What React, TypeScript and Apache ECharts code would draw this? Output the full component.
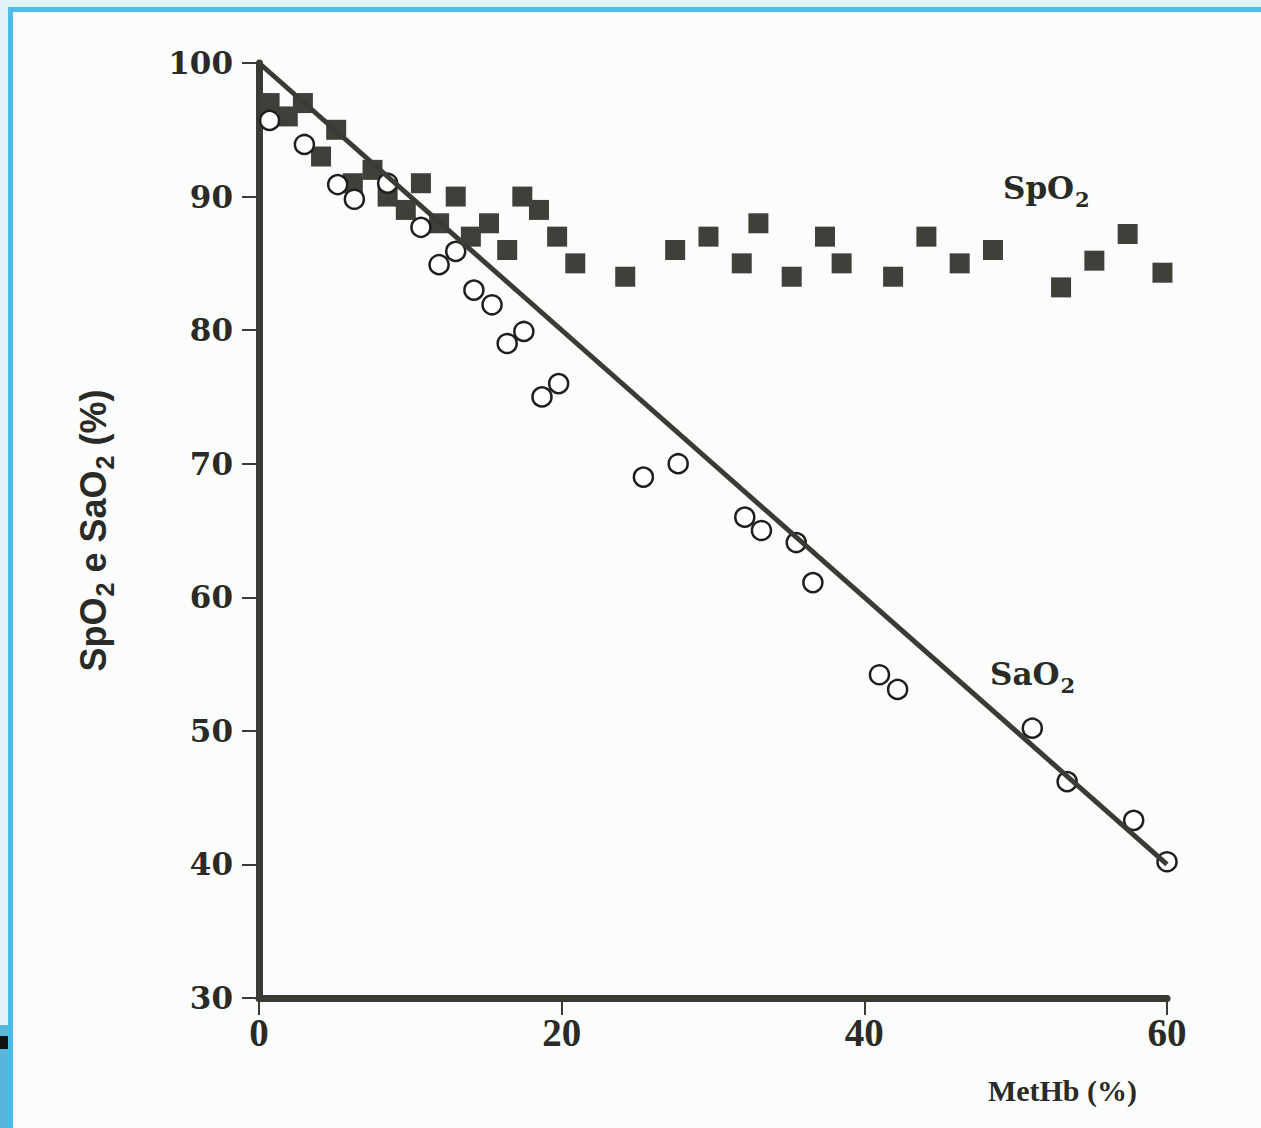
import React, { useEffect, useRef } from "react";
import * as echarts from "echarts";

// MetHb (%) vs SpO2 (filled squares)
const spo2X = [0.7, 1.9, 2.9, 5.1, 4.1, 7.5, 6.2, 10.7, 8.5, 13.0, 9.7, 17.4, 18.5, 11.9, 15.2, 14.0, 19.7, 16.4, 20.9, 24.2, 27.5, 29.7, 31.9, 33.0, 35.2, 37.4, 38.5, 41.9, 44.1, 46.3, 48.5, 53.0, 55.2, 57.4, 59.7];
const spo2Y = [97, 96, 97, 95, 93, 92, 91, 91, 90, 90, 89, 90, 89, 88, 88, 87, 87, 86, 85, 84, 86, 87, 85, 88, 84, 87, 85, 84, 87, 85, 86, 83.2, 85.2, 87.2, 84.3];

// MetHb (%) vs SaO2 (open circles)
const sao2X = [0.7, 3.0, 5.2, 6.3, 8.5, 10.7, 13.0, 11.9, 14.2, 15.4, 17.5, 16.4, 18.7, 19.8, 25.4, 27.7, 32.1, 33.2, 35.5, 36.6, 41.0, 42.2, 51.1, 53.4, 57.8, 60.0];
const sao2Y = [95.7, 93.9, 90.9, 89.8, 91, 87.7, 85.9, 84.9, 83, 81.9, 79.9, 79, 75, 76, 69, 70, 66, 65, 64.1, 61.1, 54.2, 53.1, 50.2, 46.2, 43.3, 40.2];

// Reference line SaO2 = 100 - MetHb
const lineX = [0, 60];
const lineY = [100, 40];

const xTicks = { min: 0, max: 60, interval: 20 };
const yTicks = { min: 30, max: 100, interval: 10 };

const INK = "#3b3b35";

export default function App() {
  const ref = useRef<HTMLDivElement>(null);
  useEffect(() => {
    if (!ref.current) return;
    const chart = echarts.init(ref.current, undefined, { renderer: "svg" });
    const zip = (xs: number[], ys: number[]) => xs.map((x, i) => [x, ys[i]]);
    const labelRich = {
      a: { fontFamily: "DejaVu Serif", fontWeight: "bold", fontSize: 31, fill: "#2a2a26", color: "#2a2a26", lineHeight: 36 },
      s: { fontFamily: "DejaVu Serif", fontWeight: "bold", fontSize: 21, fill: "#2a2a26", color: "#2a2a26", lineHeight: 21, padding: [22, 0, 0, 1] },
    };
    chart.setOption({
      animation: false,
      backgroundColor: "#dff3f8",
      grid: { left: 259, top: 63, width: 908, height: 935 },
      xAxis: {
        type: "value",
        min: xTicks.min,
        max: xTicks.max,
        interval: xTicks.interval,
        splitLine: { show: false },
        axisLine: { lineStyle: { color: INK, width: 7 } },
        axisTick: { length: 17, lineStyle: { color: INK, width: 2 } },
        axisLabel: {
          fontFamily: "Liberation Serif",
          fontWeight: "bold",
          fontSize: 39,
          color: "#2a2a26",
          margin: 15,
        },
      },
      yAxis: {
        type: "value",
        min: yTicks.min,
        max: yTicks.max,
        interval: yTicks.interval,
        splitLine: { show: false },
        axisLine: { lineStyle: { color: INK, width: 7 } },
        axisTick: { length: 17, lineStyle: { color: INK, width: 2 } },
        axisLabel: {
          fontFamily: "DejaVu Serif",
          fontWeight: "bold",
          fontSize: 31,
          color: "#2a2a26",
          margin: 26,
        },
        name: "{a|SpO}{s|2}{a| e SaO}{s|2}{a| (%)}",
        nameLocation: "middle",
        nameRotate: 90,
        nameGap: 146,
        nameTextStyle: {
          rich: {
            a: { fontFamily: "Liberation Sans", fontWeight: "bold", fontSize: 36, color: "#2a2a26", lineHeight: 40 },
            s: { fontFamily: "Liberation Sans", fontWeight: "bold", fontSize: 25, color: "#2a2a26", lineHeight: 25, padding: [24, 0, 0, 1] },
          },
        },
      },
      graphic: [
        { type: "rect", z: -10, shape: { x: 10.5, y: 9.5, width: 1400, height: 1300 }, style: { fill: "#fbfdfd", stroke: "#4cbbe8", lineWidth: 5 } },
        { type: "rect", z: -9, shape: { x: 0, y: 1025, width: 8, height: 103 }, style: { fill: "#58b6dc" } },
        { type: "rect", z: -9, shape: { x: 0, y: 1036, width: 8, height: 13 }, style: { fill: "#111111" } },
        {
          type: "text",
          z: 100,
          x: 1137,
          y: 1090,
          style: {
            text: "MetHb (%)",
            fontFamily: "Liberation Serif",
            fontWeight: "bold",
            fontSize: 30,
            fill: "#2a2a26",
            align: "right",
            verticalAlign: "middle",
          },
        },
        {
          type: "text",
          z: 100,
          x: 1003,
          y: 188,
          style: { text: "{a|SpO}{s|2}", verticalAlign: "middle", rich: labelRich },
        },
        {
          type: "text",
          z: 100,
          x: 990,
          y: 674,
          style: { text: "{a|SaO}{s|2}", verticalAlign: "middle", rich: labelRich },
        },
      ],
      series: [
        {
          name: "SpO2",
          type: "scatter",
          symbol: "rect",
          symbolSize: 20,
          z: 2,
          itemStyle: { color: "#3f4039", opacity: 1 },
          emphasis: { disabled: true },
          data: zip(spo2X, spo2Y),
        },
        {
          name: "SaO2",
          type: "scatter",
          symbol: "circle",
          symbolSize: 19,
          z: 3,
          itemStyle: { color: "#ffffff", borderColor: "#1e1e1e", borderWidth: 2.5, opacity: 1 },
          emphasis: { disabled: true },
          data: zip(sao2X, sao2Y),
        },
        {
          name: "line",
          type: "line",
          symbol: "none",
          z: 4,
          lineStyle: { color: INK, width: 5 },
          emphasis: { disabled: true },
          data: zip(lineX, lineY),
        },
      ],
    });
    return () => chart.dispose();
  }, []);
  return (
    <div
      ref={ref}
      style={{ position: "absolute", left: 0, top: 0, width: 1261, height: 1128 }}
    />
  );
}
